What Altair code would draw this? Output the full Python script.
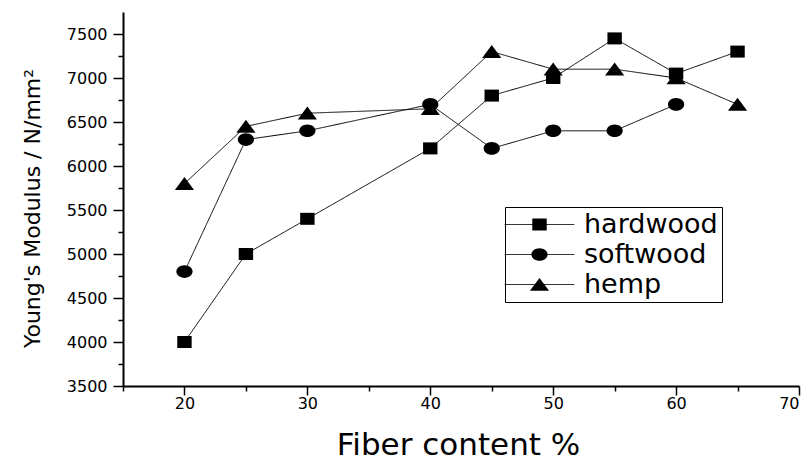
import altair as alt
import pandas as pd

series_names = ["hardwood", "softwood", "hemp"]

hardwood_x = [20, 25, 30, 40, 45, 50, 55, 60, 65]
hardwood_y = [4000, 5000, 5400, 6200, 6800, 7000, 7450, 7050, 7300]

softwood_x = [20, 25, 30, 40, 45, 50, 55, 60]
softwood_y = [4800, 6300, 6400, 6700, 6200, 6400, 6400, 6700]

hemp_x = [20, 25, 30, 40, 45, 50, 55, 60, 65]
hemp_y = [5800, 6450, 6600, 6650, 7300, 7100, 7100, 7000, 6700]

x_major = [20, 30, 40, 50, 60, 70]
x_minor = [15, 25, 35, 45, 55, 65]
y_major = [3500, 4000, 4500, 5000, 5500, 6000, 6500, 7000, 7500]
y_minor = [3750, 4250, 4750, 5250, 5750, 6250, 6750, 7250]

rows = []
for name, xs, ys in [("hardwood", hardwood_x, hardwood_y),
                     ("softwood", softwood_x, softwood_y),
                     ("hemp", hemp_x, hemp_y)]:
    for a, b in zip(xs, ys):
        rows.append({"fiber": a, "modulus": b, "series": name, "series_l": name})
df = pd.DataFrame(rows)

FONT = "DejaVu Sans"

shape_paths = [
    "M-1.2,-1L1.2,-1L1.2,1L-1.2,1Z",
    "M-1.35,0A1.35,1.05 0 1,1 1.35,0A1.35,1.05 0 1,1 -1.35,0Z",
    "M0,-1.1L1.6,1.05L-1.6,1.05Z",
]

x_scale = alt.Scale(domain=[15, 70], nice=False, zero=False)
y_scale = alt.Scale(domain=[3500, 7750], nice=False, zero=False)

LEG_X = 382
LEG_Y = 195
SYM_OFF = 17
LAB_OFF = 31

lines = alt.Chart(df).mark_line(color="black", strokeWidth=1).encode(
    x=alt.X("fiber:Q", scale=x_scale,
            axis=alt.Axis(values=x_major, orient="bottom", tickSize=9, labelPadding=0,
                          format="d",
                          title="Fiber content %", titleFontSize=31, titleFont=FONT,
                          titleFontWeight="normal", titleX=335, titleY=68,
                          titleBaseline="alphabetic", titleAlign="center")),
    y=alt.Y("modulus:Q", scale=y_scale,
            axis=alt.Axis(values=y_major, orient="left", tickSize=10, labelPadding=6,
                          format="d",
                          title="Young's Modulus / N/mm²", titleFontSize=22, titleFont=FONT,
                          titleFontWeight="normal", titleX=-84, titleY=196, titleAngle=270,
                          titleBaseline="alphabetic", titleAlign="center")),
    strokeDash=alt.StrokeDash("series_l:N", sort=series_names,
        scale=alt.Scale(range=[[1, 0], [1, 0], [1, 0]]),
        legend=alt.Legend(title="", orient="none", legendX=LEG_X, legendY=LEG_Y,
                          direction="vertical", symbolType="M-5.8,0L5.8,0", symbolSize=144,
                          symbolOffset=SYM_OFF,
                          symbolStrokeWidth=1, symbolStrokeColor="black",
                          symbolFillColor="transparent", labelFont=FONT, labelFontSize=27,
                          labelColor="black", labelOffset=LAB_OFF, rowPadding=2, padding=4,
                          strokeColor="black")),
)

points = alt.Chart(df).mark_point(filled=True, color="black", size=144, opacity=1).encode(
    x=alt.X("fiber:Q", scale=x_scale,
            axis=alt.Axis(values=x_minor, orient="bottom", tickSize=5, labels=False,
                          domain=False, title="")),
    y=alt.Y("modulus:Q", scale=y_scale,
            axis=alt.Axis(values=y_minor, orient="left", tickSize=5, labels=False,
                          domain=False, title="")),
    shape=alt.Shape("series:N",
        scale=alt.Scale(domain=series_names, range=shape_paths),
        legend=alt.Legend(title="", orient="none", legendX=LEG_X, legendY=LEG_Y,
                          direction="vertical", symbolSize=144, symbolStrokeWidth=1,
                          symbolOffset=SYM_OFF,
                          symbolStrokeColor="black", symbolFillColor="black",
                          labelFont=FONT, labelFontSize=27, labelOpacity=0,
                          labelOffset=LAB_OFF, rowPadding=2, padding=4)),
)

chart = alt.layer(lines, points).resolve_axis(x="independent", y="independent").properties(
    width=676, height=374,
    autosize=alt.AutoSizeParams(type="none"),
    padding={"left": 115, "top": 4, "right": 2, "bottom": 75},
).configure_view(stroke=None).configure_axis(
    grid=False, domainColor="black", domainWidth=2, tickColor="black", tickWidth=1.5,
    labelColor="black", labelFont=FONT, labelFontSize=16, titleColor="black",
)

chart.save("out.html", embed_options={"renderer": "svg", "actions": False})
